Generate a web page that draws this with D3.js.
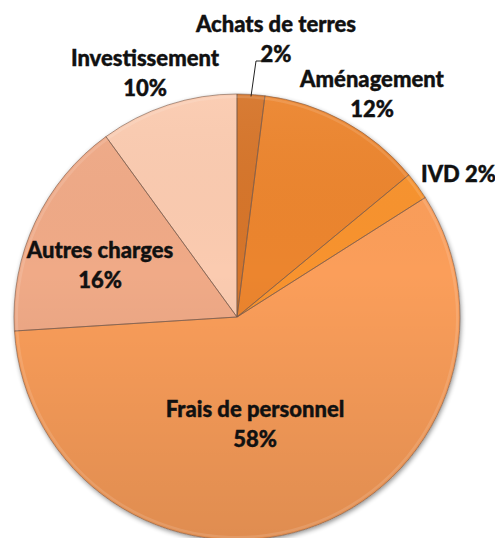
<!DOCTYPE html>
<html>
<head>
<meta charset="utf-8">
<script src="https://cdn.jsdelivr.net/npm/d3@7"></script>
<style>
  body { margin: 0; background: #fff; }
  text { font-family: Lato, "Open Sans", sans-serif; font-weight: 900; fill: #111; stroke: #111; stroke-width: 0.4px; }
</style>
</head>
<body>
<div id="pie-chart"></div>
<script>
// data (share of budget, %)
var categories = ["Achats de terres", "Aménagement", "IVD", "Frais de personnel", "Autres charges", "Investissement"];
var shares = [2, 12, 2, 58, 16, 10];
var sliceColors = ["#d6742a", "#ec852e", "#f8932f", "#fb9e5a", "#f0aa87", "#fbcbb0"];

var width = 495,
    height = 538;

var cx = 237, cy = 317, radius = 223;

var svg = d3.select("#pie-chart").append("svg")
    .attr("width", width)
    .attr("height", height);

var defs = svg.append("defs");

// soft shadow round the pie
var shadow = defs.append("filter").attr("id", "shadow")
    .attr("x", "-10%").attr("y", "-10%").attr("width", "120%").attr("height", "120%");
shadow.append("feGaussianBlur").attr("in", "SourceAlpha").attr("stdDeviation", 2.5);
shadow.append("feOffset").attr("dx", 1).attr("dy", 2).attr("result", "blur");
shadow.append("feComponentTransfer").append("feFuncA").attr("type", "linear").attr("slope", 0.45);
var merge = shadow.append("feMerge");
merge.append("feMergeNode");
merge.append("feMergeNode").attr("in", "SourceGraphic");

// a touch lighter on top, darker at the bottom
var shade = defs.append("linearGradient").attr("id", "shade")
    .attr("gradientUnits", "userSpaceOnUse")
    .attr("x1", 0).attr("y1", cy - radius)
    .attr("x2", 0).attr("y2", cy + radius);
shade.append("stop").attr("offset", "0%").attr("stop-color", "#fff").attr("stop-opacity", 0.05);
shade.append("stop").attr("offset", "40%").attr("stop-color", "#000").attr("stop-opacity", 0.0);
shade.append("stop").attr("offset", "100%").attr("stop-color", "#000").attr("stop-opacity", 0.11);

var color = d3.scaleOrdinal()
    .domain(categories)
    .range(sliceColors);

var pie = d3.pie()
    .sort(null)
    .value(function (d) { return d.value; });

var data = categories.map(function (c, i) {
    return { name: c, value: shares[i] };
});
var arcs = pie(data);

var arc = d3.arc().innerRadius(0).outerRadius(radius);

var g = svg.append("g")
    .attr("transform", "translate(" + cx + "," + cy + ")");

var slices = g.append("g").attr("filter", "url(#shadow)");
slices.selectAll("path.base")
    .data(arcs)
    .enter()
    .append("path")
    .attr("class", "base")
    .attr("d", arc)
    .attr("fill", function (d) { return color(d.data.name); });

// shading overlay
g.append("circle")
    .attr("transform", "translate(" + (-cx) + "," + (-cy) + ")")
    .attr("cx", cx).attr("cy", cy).attr("r", radius)
    .attr("fill", "url(#shade)");

// slice borders
g.selectAll("path.edge")
    .data(arcs)
    .enter()
    .append("path")
    .attr("class", "edge")
    .attr("d", arc)
    .attr("fill", "none")
    .attr("stroke", "#7a5a4a")
    .attr("stroke-opacity", 0.6)
    .attr("stroke-width", 1);

// bevel-ish highlight just inside the rim
g.selectAll("path.rim")
    .data(arcs)
    .enter()
    .append("path")
    .attr("class", "rim")
    .attr("d", d3.arc().innerRadius(radius - 4).outerRadius(radius - 1.5))
    .attr("fill", "#fff")
    .attr("fill-opacity", 0.12);

// label placement (svg coords: centre x, first baseline)
var labelPlace = {
    "Achats de terres": { x: 276, y: 32, anchor: "middle", one: false },
    "Aménagement": { x: 372, y: 87, anchor: "middle", one: false },
    "IVD": { x: 421, y: 182, anchor: "start", one: true },
    "Frais de personnel": { x: 255, y: 417, anchor: "middle", one: false },
    "Autres charges": { x: 100, y: 258, anchor: "middle", one: false },
    "Investissement": { x: 145, y: 66, anchor: "middle", one: false }
};

var fontSize = "22px";
var labels = svg.append("g").attr("class", "labels");
arcs.forEach(function (d) {
    var p = labelPlace[d.data.name];
    var t = labels.append("text")
        .attr("x", p.x)
        .attr("y", p.y)
        .attr("text-anchor", p.anchor)
        .style("font-size", fontSize);
    if (p.one) {
        t.text(d.data.name + " " + d.data.value + "%");
    } else {
        t.text(d.data.name);
        labels.append("text")
            .attr("x", p.x)
            .attr("y", p.y + 29.5)
            .attr("text-anchor", "middle")
            .style("font-size", fontSize)
            .text(d.data.value + "%");
    }
});

// leader line for the thin first slice
var first = arcs[0];
var mid = (first.startAngle + first.endAngle) / 2;
var rimX = cx + radius * Math.sin(mid),
    rimY = cy - radius * Math.cos(mid);
labels.append("polyline")
    .attr("points", [[262, 61], [256, 61], [rimX, rimY + 2]].map(function (p) { return p.join(","); }).join(" "))
    .attr("fill", "none")
    .attr("stroke", "#222")
    .attr("stroke-width", 1);
</script>
</body>
</html>
